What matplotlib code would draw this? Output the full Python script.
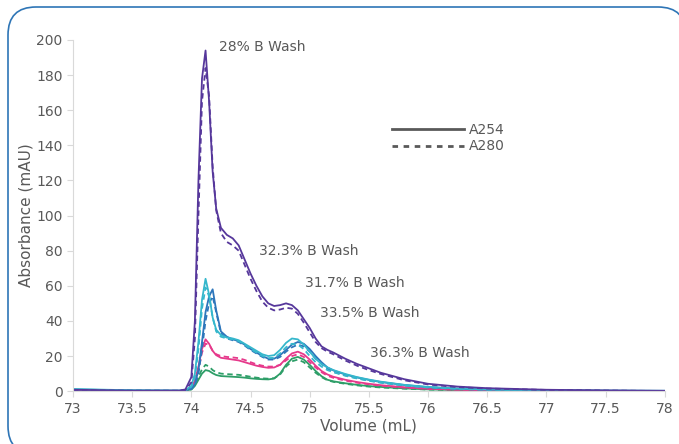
import matplotlib
matplotlib.use('Agg')
import matplotlib.pyplot as plt
from matplotlib.lines import Line2D
from matplotlib.patches import FancyBboxPatch
from matplotlib.ticker import FuncFormatter, MultipleLocator


# Volume axis shared by every trace (mL)
volume = [73.0, 73.5, 73.9, 73.95, 74.0, 74.03, 74.06, 74.09, 74.12, 74.15,
          74.18, 74.21, 74.25, 74.3, 74.35, 74.4, 74.45, 74.5, 74.55, 74.6,
          74.65, 74.7, 74.75, 74.8, 74.85, 74.9, 74.95, 75.0, 75.05, 75.1,
          75.15, 75.2, 75.3, 75.4, 75.5, 75.6, 75.8, 76.0, 76.25, 76.5,
          77.0, 77.5, 78.0]

# A254 traces (solid)
purple_254 = [0.8, 0.3, 0.3, 1, 8, 40, 120, 178, 194, 165,
              125, 104, 93, 89, 87, 83, 75, 67, 60, 54,
              50, 48.5, 49, 50, 49, 46, 41, 36, 30, 25.5,
              23.5, 22, 18.5, 15.5, 13, 10.5, 6.8, 4.2, 2.6, 1.7,
              0.8, 0.4, 0.2]
cyan_254 = [1.2, 0.5, 0.3, 0.5, 3, 10, 28, 52, 64, 55,
            42, 35, 32, 30.5, 30, 29, 27, 25, 23, 21,
            20, 20.5, 23.5, 27.5, 30, 29.5, 26.5, 22.5, 18.5, 15.5,
            13.5, 12, 9.8, 8, 6.6, 5.4, 3.6, 2.4, 1.5, 1.0,
            0.5, 0.3, 0.2]
blue_254 = [1.0, 0.4, 0.3, 0.4, 1.5, 4, 12, 28, 45, 54,
            58, 46, 34, 31, 29.5, 28.5, 26.5, 24, 22, 20,
            18.5, 18.5, 20.5, 23.5, 26.5, 28, 27, 24, 20, 16.5,
            13.5, 11.8, 9.5, 7.8, 6.4, 5.2, 3.5, 2.3, 1.4, 0.9,
            0.5, 0.3, 0.2]
pink_254 = [0.3, 0.2, 0.2, 0.4, 2, 6, 14, 24, 29.5, 27,
            23, 20.5, 19, 18.5, 18, 17.5, 16.5, 15.5, 14.5, 13.8,
            13.3, 13.5, 15, 18.5, 21.5, 22.5, 21, 18, 14.5, 11.5,
            9.5, 8.2, 6.5, 5.2, 4.2, 3.4, 2.2, 1.4, 0.9, 0.6,
            0.3, 0.2, 0.1]
green_254 = [0.3, 0.2, 0.2, 0.3, 1, 3, 6.5, 10, 12, 11.5,
             10.2, 9.2, 8.6, 8.4, 8.2, 8, 7.7, 7.3, 7, 6.8,
             6.7, 7.2, 10, 15, 18.5, 19.5, 18, 15, 11.5, 8.5,
             6.5, 5.6, 4.5, 3.6, 2.9, 2.4, 1.6, 1.0, 0.6, 0.4,
             0.2, 0.15, 0.1]

# A280 traces (dashed)
purple_280 = [0.5, 0.2, 0.2, 0.6, 5, 30, 100, 165, 184, 168,
              128, 103, 90, 85, 83, 80, 72, 64, 57, 51,
              47.5, 46, 46.5, 47.5, 47, 44, 39, 33.5, 28, 24.5,
              22.5, 21, 17.5, 14.5, 12, 9.8, 6.2, 3.8, 2.3, 1.5,
              0.7, 0.3, 0.1]
cyan_280 = [0.8, 0.3, 0.2, 0.4, 2.5, 8, 24, 47, 59, 54,
            42, 34, 31, 30, 29.5, 28.5, 26.5, 24, 22, 20,
            18.8, 19, 21.5, 25, 27, 26.5, 24, 20, 16.5, 14,
            12, 10.8, 8.8, 7.2, 5.9, 4.8, 3.2, 2.1, 1.3, 0.9,
            0.4, 0.2, 0.1]
blue_280 = [0.7, 0.3, 0.2, 0.3, 1.2, 3.5, 10, 24, 40, 50,
            54, 45, 33, 30, 29, 28, 26, 23.5, 21.5, 19.5,
            18, 18, 19.5, 22.5, 25, 26.5, 25.5, 22.5, 18.5, 15.5,
            12.8, 11, 9, 7.4, 6.1, 5, 3.3, 2.2, 1.3, 0.8,
            0.4, 0.2, 0.1]
pink_280 = [0.2, 0.1, 0.1, 0.3, 1.5, 5, 12, 22, 27, 26.5,
            23, 21, 20, 19.5, 19.2, 18.8, 17.8, 16.5, 15.3, 14.5,
            14, 14, 15, 17.5, 20, 21, 19.5, 16.5, 13.5, 10.8,
            8.8, 7.6, 6, 4.8, 3.9, 3.1, 2, 1.3, 0.8, 0.5,
            0.2, 0.1, 0.1]
green_280 = [0.2, 0.1, 0.1, 0.2, 1, 3.5, 8, 12.5, 15, 14,
             12, 10.8, 10, 9.7, 9.5, 9.3, 8.8, 8.2, 7.7, 7.3,
             7.1, 7.4, 9.5, 14, 17, 18, 16.5, 13.5, 10.5, 8,
             6.2, 5.3, 4.2, 3.3, 2.6, 2.1, 1.4, 0.9, 0.5, 0.3,
             0.2, 0.1, 0.1]

wash_labels = ['28% B Wash', '32.3% B Wash', '31.7% B Wash', '33.5% B Wash', '36.3% B Wash']
label_pos = [(74.23, 196), (74.57, 80), (74.96, 61.5), (75.09, 44.5), (75.51, 22)]

TEXT_GRAY = '#595959'
AXIS_GRAY = '#d9d9d9'

traces = [
    (green_254, green_280, '#2e9e68'),
    (pink_254, pink_280, '#e6398b'),
    (blue_254, blue_280, '#2d76bb'),
    (cyan_254, cyan_280, '#35b7cc'),
    (purple_254, purple_280, '#56379b'),
]


def main():
    fig = plt.figure(figsize=(6.79, 4.44), dpi=100)
    ax = fig.add_axes([0.1075, 0.119, 0.8715, 0.791])

    # rounded frame around the whole chart (inches, runs off right/bottom edge)
    # white fill keeps Agg from clipping the corner curves badly
    frame = FancyBboxPatch((0.08, -0.10), 6.78, 4.47, transform=fig.dpi_scale_trans,
                           boxstyle='round,pad=0,rounding_size=0.28',
                           facecolor='white', edgecolor='#2e75b6', linewidth=1.2,
                           zorder=-1)
    fig.patches.append(frame)

    for a254, a280, color in traces:
        ax.plot(volume, a254, color=color, lw=1.3, solid_joinstyle='round')
        ax.plot(volume, a280, color=color, lw=1.3, dashes=(3, 2))

    for text, (x, y) in zip(wash_labels, label_pos):
        ax.text(x, y, text, fontsize=10, color=TEXT_GRAY, va='center', ha='left')

    handles = [Line2D([], [], color=TEXT_GRAY, lw=2),
               Line2D([], [], color=TEXT_GRAY, lw=2, dashes=(2, 2))]
    ax.legend(handles, ['A254', 'A280'], loc='upper left', bbox_to_anchor=(0.518, 0.8),
              frameon=False, handlelength=5.2, handletextpad=0.3, labelspacing=0.2,
              fontsize=10, labelcolor=TEXT_GRAY)

    ax.set_xlim(73, 78)
    ax.set_ylim(0, 200)
    ax.xaxis.set_major_locator(MultipleLocator(0.5))
    ax.yaxis.set_major_locator(MultipleLocator(20))
    ax.xaxis.set_major_formatter(FuncFormatter(lambda v, p: '%g' % v))

    for side in ['top', 'right']:
        ax.spines[side].set_visible(False)
    for side in ['left', 'bottom']:
        ax.spines[side].set_color(AXIS_GRAY)
    ax.tick_params(colors=AXIS_GRAY, labelcolor=TEXT_GRAY, labelsize=10, length=4)

    ax.set_xlabel('Volume (mL)', fontsize=11, color=TEXT_GRAY, labelpad=2)
    ax.set_ylabel('Absorbance (mAU)', fontsize=11, color=TEXT_GRAY, labelpad=2)

    fig.savefig('out.png', dpi=100)
    plt.close(fig)


if __name__ == '__main__':
    main()
